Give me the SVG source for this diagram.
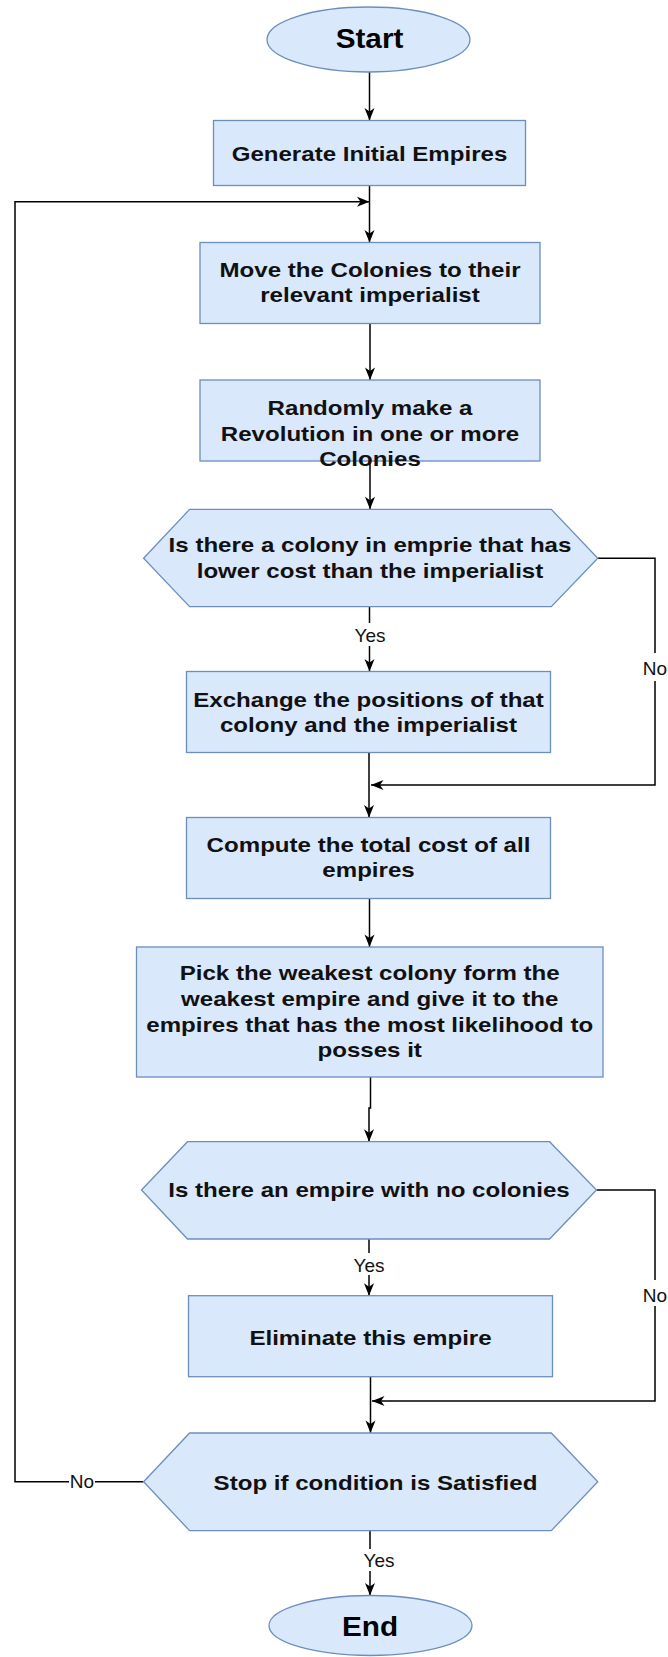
<svg xmlns="http://www.w3.org/2000/svg" width="668" height="1657" viewBox="0 0 668 1657">
<style>
.node{fill:#dae8fc;stroke:#6c8ebf;stroke-width:1.3}
.t{font-family:"Liberation Sans",Arial,Helvetica,sans-serif;font-weight:bold;font-size:20.5px;text-anchor:middle;fill:#111}
.tt{font-family:"Liberation Sans",Arial,Helvetica,sans-serif;font-weight:bold;font-size:27px;text-anchor:middle;fill:#000}
.edge{fill:none;stroke:#000;stroke-width:1.5}
.lbl{font-family:"Liberation Sans",Arial,Helvetica,sans-serif;font-size:19px;text-anchor:middle;fill:#111}
.lbg{fill:#fff}
</style>
<defs>
<marker id="arr" markerUnits="userSpaceOnUse" markerWidth="16" markerHeight="14" viewBox="-14 -7 16 14" refX="0" refY="0" orient="auto">
<path d="M-12.5,-5 L0,0 L-12.5,5 L-9,0 Z" fill="#000"/>
</marker>
</defs>

<g id="connectors">
<path class="edge" d="M369.5 72 V120.5" marker-end="url(#arr)"/>
<path class="edge" d="M369.5 185.7 V242.5" marker-end="url(#arr)"/>
<path class="edge" d="M143.6 1481.7 H15 V201.7 H369.5" marker-end="url(#arr)"/>
<path class="edge" d="M370 323.5 V380" marker-end="url(#arr)"/>
<path class="edge" d="M370 461 V509.3" marker-end="url(#arr)"/>
<path class="edge" d="M369.5 606.7 V671.5" marker-end="url(#arr)"/>
<path class="edge" d="M597.8 558.3 H655 V785 H371" marker-end="url(#arr)"/>
<path class="edge" d="M369 752.5 V817.5" marker-end="url(#arr)"/>
<path class="edge" d="M369.5 898.5 V947" marker-end="url(#arr)"/>
<path class="edge" d="M370.5 1077 V1108 H369 V1141.7" marker-end="url(#arr)"/>
<path class="edge" d="M369 1239 V1295.7" marker-end="url(#arr)"/>
<path class="edge" d="M596.5 1190 H655 V1401 H372" marker-end="url(#arr)"/>
<path class="edge" d="M370.5 1376.7 V1433" marker-end="url(#arr)"/>
<path class="edge" d="M370 1530.7 V1595.5" marker-end="url(#arr)"/>
<rect class="lbg" x="352" y="623" width="36" height="23"/>
<text class="lbl" x="370" y="641.5">Yes</text>
<rect class="lbg" x="351" y="1253" width="36" height="22"/>
<text class="lbl" x="369" y="1271.5">Yes</text>
<rect class="lbg" x="361" y="1549" width="36" height="22"/>
<text class="lbl" x="379" y="1566.5">Yes</text>
<rect class="lbg" x="642" y="653" width="26" height="28"/>
<text class="lbl" x="655" y="675">No</text>
<rect class="lbg" x="642" y="1280" width="26" height="26"/>
<text class="lbl" x="655" y="1301.5">No</text>
<rect class="lbg" x="69" y="1470" width="26" height="22"/>
<text class="lbl" x="82" y="1487.7">No</text>
</g>

<g id="start">
<ellipse class="node" cx="368.5" cy="39.5" rx="101.5" ry="32.5"/>
<text class="tt" transform="matrix(1.1 0 0 1 369.5 0)" x="0" y="48.5">Start</text>
</g>

<g id="generate">
<rect class="node" x="213.5" y="120.5" width="312" height="65"/>
<text class="t" transform="matrix(1.175 0 0 1 369.5 0)" x="0" y="161">Generate Initial Empires</text>
</g>

<g id="move">
<rect class="node" x="200" y="242.5" width="340" height="81"/>
<text class="t" transform="matrix(1.175 0 0 1 370 0)"><tspan x="0" y="277">Move the Colonies to their</tspan><tspan x="0" y="302">relevant imperialist</tspan></text>
</g>

<g id="revolution">
<rect class="node" x="200" y="380" width="340" height="81"/>
<text class="t" transform="matrix(1.175 0 0 1 370 0)"><tspan x="0" y="415">Randomly make a</tspan><tspan x="0" y="441">Revolution in one or more</tspan><tspan x="0" y="466.5">Colonies</tspan></text>
</g>

<g id="decision1">
<polygon class="node" points="143.6,558.3 189.6,509.3 551.3,509.3 597.8,558.3 551.3,606.7 189.6,606.7"/>
<text class="t" transform="matrix(1.175 0 0 1 370 0)"><tspan x="0" y="552.5">Is there a colony in emprie that has</tspan><tspan x="0" y="578">lower cost than the imperialist</tspan></text>
</g>

<g id="exchange">
<rect class="node" x="186.5" y="671.5" width="364" height="81"/>
<text class="t" transform="matrix(1.175 0 0 1 368.5 0)"><tspan x="0" y="706.7">Exchange the positions of that</tspan><tspan x="0" y="731.7">colony and the imperialist</tspan></text>
</g>

<g id="compute">
<rect class="node" x="186.5" y="817.5" width="364" height="81"/>
<text class="t" transform="matrix(1.175 0 0 1 368.5 0)"><tspan x="0" y="852.5">Compute the total cost of all</tspan><tspan x="0" y="877.5">empires</tspan></text>
</g>

<g id="pick">
<rect class="node" x="136.5" y="947" width="466.5" height="130"/>
<text class="t" transform="matrix(1.175 0 0 1 369.7 0)"><tspan x="0" y="980">Pick the weakest colony form the</tspan><tspan x="0" y="1006">weakest empire and give it to the</tspan><tspan x="0" y="1031.7">empires that has the most likelihood to</tspan><tspan x="0" y="1057.3">posses it</tspan></text>
</g>

<g id="decision2">
<polygon class="node" points="141.5,1190 187.5,1141.7 549.6,1141.7 596.5,1190 549.6,1239 187.5,1239"/>
<text class="t" transform="matrix(1.175 0 0 1 369 0)" x="0" y="1197.5">Is there an empire with no colonies</text>
</g>

<g id="eliminate">
<rect class="node" x="188.5" y="1295.7" width="364" height="81"/>
<text class="t" transform="matrix(1.175 0 0 1 370.5 0)" x="0" y="1345">Eliminate this empire</text>
</g>

<g id="decision3">
<polygon class="node" points="143.6,1481.7 189.6,1433 551.3,1433 597.8,1481.7 551.3,1530.7 189.6,1530.7"/>
<text class="t" transform="matrix(1.175 0 0 1 375.5 0)" x="0" y="1490">Stop if condition is Satisfied</text>
</g>

<g id="end">
<ellipse class="node" cx="370.5" cy="1625.5" rx="101.5" ry="30"/>
<text class="tt" transform="matrix(1.1 0 0 1 370 0)" x="0" y="1636">End</text>
</g>
</svg>
